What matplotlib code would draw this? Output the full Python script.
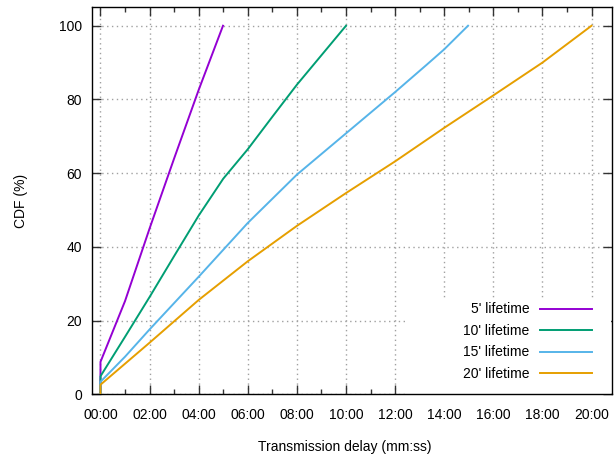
import matplotlib
matplotlib.use('Agg')
import matplotlib.pyplot as plt
from matplotlib.patches import Rectangle
from matplotlib.ticker import MultipleLocator, FuncFormatter

plt.rcParams['font.family'] = ['Liberation Sans', 'DejaVu Sans']

# delay in minutes, CDF in %
x5 = [0, 0, 1, 2, 3, 4, 4.99]
y5 = [0, 8.8, 25.3, 45.0, 64.0, 82.6, 100]

x10 = [0, 0, 1, 2, 3, 4, 5, 6, 7, 8, 9, 10]
y10 = [0, 4.9, 15.6, 26.4, 37.5, 48.5, 58.5, 66.5, 75.3, 84.0, 92.0, 100]

x15 = [0, 0, 1, 2, 4, 6, 8, 10, 12, 13.3, 14, 14.97]
y15 = [0, 3.4, 10.2, 17.6, 31.9, 46.5, 59.6, 70.8, 82.0, 89.5, 93.6, 100]

x20 = [0, 0, 1, 2, 4, 6, 8, 10, 12, 14, 16, 18, 20]
y20 = [0, 2.6, 8.3, 14.0, 25.6, 36.1, 45.7, 54.6, 63.2, 72.3, 81.1, 90.0, 100]

labels = ["5' lifetime", "10' lifetime", "15' lifetime", "20' lifetime"]
colors = ['#9400d3', '#009e73', '#56b4e9', '#e69f00']

fig = plt.figure(figsize=(6.16, 4.55), dpi=100)
ax = fig.add_axes([92.3 / 616, 1 - 394.3 / 455, (612 - 92.3) / 616, (394.3 - 7.3) / 455])

for xs, ys, lab, col in zip([x5, x10, x15, x20], [y5, y10, y15, y20], labels, colors):
    ax.plot(xs, ys, color=col, lw=1.4, label=lab, zorder=3)

ax.set_xlim(-20 / 60, 1250 / 60)
ax.set_ylim(0, 105)

ax.xaxis.set_major_locator(MultipleLocator(2))
ax.xaxis.set_minor_locator(MultipleLocator(1))
ax.yaxis.set_major_locator(MultipleLocator(20))
ax.xaxis.set_major_formatter(FuncFormatter(lambda v, p: '%02d:%02d' % (int(round(v * 60)) // 60, int(round(v * 60)) % 60)))

ax.tick_params(which='both', direction='in', top=True, right=True, colors='#333333', labelcolor='black', labelsize=10)
ax.tick_params(which='major', length=6.5, width=1)
ax.tick_params(which='minor', length=3.5, width=1)
ax.tick_params(axis='x', pad=10)
ax.tick_params(axis='y', pad=7.5)

for s in ax.spines.values():
    s.set_linewidth(1)
    s.set_color('black')

ax.grid(True, which='major', color='#a0a0a0', linestyle=(0, (1, 2.5)), linewidth=1)
ax.set_axisbelow(True)

# opaque key area like gnuplot
ax.add_patch(Rectangle((0.6075, 0.0), 0.39, 0.249, transform=ax.transAxes,
                       facecolor='white', edgecolor='none', zorder=1))

leg = ax.legend(loc='lower right', bbox_to_anchor=(0.9796, 0.0093), frameon=False, markerfirst=False,
                fontsize=10, handlelength=3.7, handletextpad=0.8, labelspacing=0.54,
                borderpad=0.2)
for t in leg.get_texts():
    t.set_ha('right')

ax.set_xlabel('Transmission delay (mm:ss)', fontsize=10)
ax.xaxis.set_label_coords(0.486, -0.118)
ax.set_ylabel('CDF (%)', fontsize=10)
ax.yaxis.set_label_coords(-0.124, 0.5)

fig.savefig('out.png', dpi=100)
